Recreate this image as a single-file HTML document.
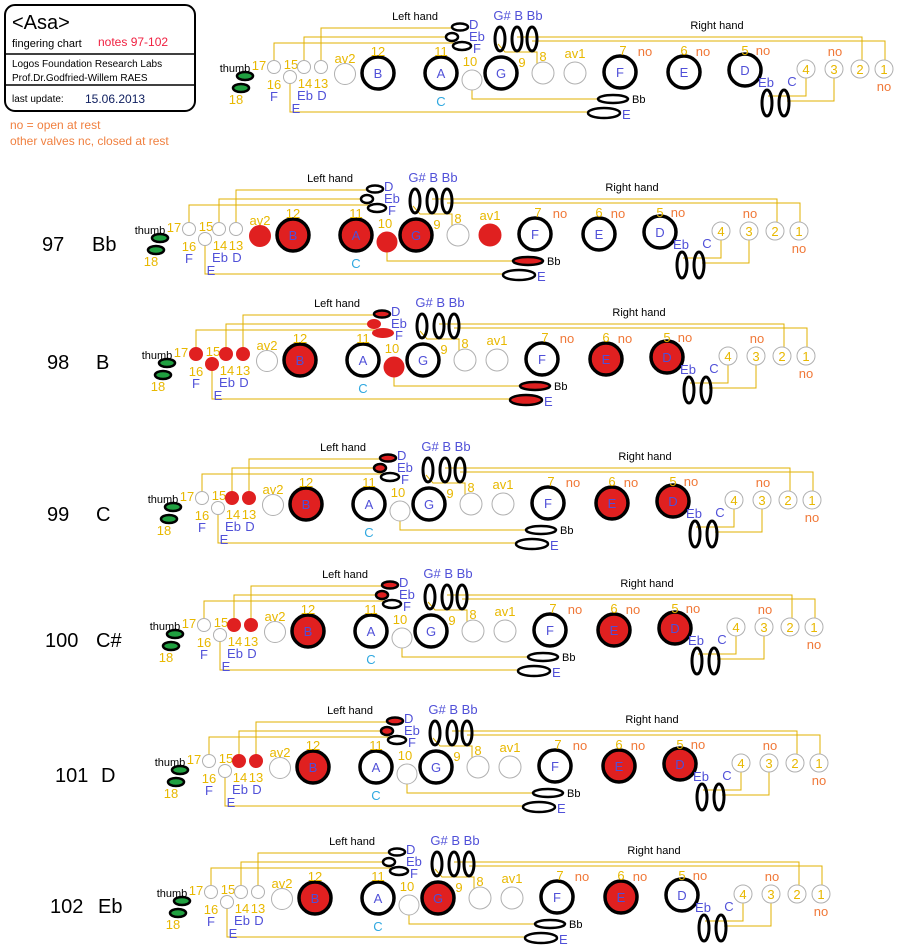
<!DOCTYPE html>
<html><head><meta charset="utf-8"><style>
body{margin:0;background:#fff}
svg{display:block;font-family:"Liberation Sans",sans-serif}
.ln{stroke:#e0b000;fill:none;stroke-width:1}
.y{fill:#e8b800;font-size:13px}
.b{fill:#5050d8;font-size:13px}
.c{fill:#30a8e0;font-size:13px}
.o{fill:#f07838;font-size:13px}
.s{fill:#fff;stroke:#b0b0b0;stroke-width:1}
.rs{fill:#e02020;stroke:#e02020;stroke-width:1}
.L{fill:#fff;stroke:#000;stroke-width:3.5}
.rL{fill:#e02020;stroke:#000;stroke-width:3.5}
.e{fill:#fff;stroke:#000;stroke-width:2.5}
.re{fill:#e02020;stroke:#000;stroke-width:2.5}
.rn{fill:#e02020;stroke:none}
.v{fill:none;stroke:#000;stroke-width:3}
.g{fill:#20a040;stroke:#000;stroke-width:2.5}
.k{fill:#000;font-size:11px}
.m{text-anchor:middle}
.row{font-size:20px;fill:#000}
</style></head><body>
<svg width="899" height="952" viewBox="0 0 899 952" xmlns="http://www.w3.org/2000/svg">
<rect x="5" y="5" width="190" height="106" rx="10" fill="#fff" stroke="#000" stroke-width="2"/>
<line x1="5" y1="54" x2="195" y2="54" stroke="#000" stroke-width="1.5"/>
<line x1="5" y1="85" x2="195" y2="85" stroke="#000" stroke-width="1.5"/>
<text x="12" y="29" font-size="20">&lt;Asa&gt;</text>
<text x="12" y="47" font-size="11">fingering chart</text>
<text x="98" y="46" font-size="12" fill="#f02040">notes 97-102</text>
<text x="12" y="67" font-size="10">Logos Foundation Research Labs</text>
<text x="12" y="81" font-size="10">Prof.Dr.Godfried-Willem RAES</text>
<text x="12" y="102" font-size="10">last update:</text>
<text x="85" y="103" font-size="12" fill="#102060">15.06.2013</text>
<text x="10" y="129" font-size="12" fill="#f08040">no = open at rest</text>
<text x="10" y="145" font-size="12" fill="#f08040">other valves nc, closed at rest</text>

<text class="row" x="42" y="251">97</text><text class="row" x="92" y="251">Bb</text>
<text class="row" x="47" y="369">98</text><text class="row" x="96" y="369">B</text>
<text class="row" x="47" y="521">99</text><text class="row" x="96" y="521">C</text>
<text class="row" x="45" y="647">100</text><text class="row" x="96" y="647">C#</text>
<text class="row" x="55" y="782">101</text><text class="row" x="101" y="782">D</text>
<text class="row" x="50" y="913">102</text><text class="row" x="98" y="913">Eb</text>

<!-- TOP (template) -->
<g transform="translate(0,0)">
<path class="ln" d="M274,62V43H455M304,61V37H448M321,61V28H455M290,77V112H592M472,80V99H600M498,44L505,52H537V72M517,37H862V61M532,41H885V61M806,78V96H768M834,78V101H787"/>
<text class="k m" x="235" y="72">thumb</text>
<ellipse class="g" cx="245" cy="76" rx="8" ry="4"/><ellipse class="g" cx="241" cy="88" rx="8" ry="4"/>
<text class="y m" x="236" y="104">18</text><text class="y m" x="259" y="70">17</text><text class="y m" x="291" y="69">15</text>
<text class="y m" x="274" y="89">16</text><text class="y m" x="305" y="88">14</text><text class="y m" x="321" y="88">13</text>
<text class="b m" x="274" y="101">F</text><text class="b m" x="305" y="100">Eb</text><text class="b m" x="322" y="100">D</text><text class="b m" x="296" y="113">E</text>
<circle class="s" cx="274" cy="67" r="6.5"/><circle class="s" cx="290" cy="77" r="6.5"/><circle class="s" cx="304" cy="67" r="6.5"/><circle class="s" cx="321" cy="67" r="6.5"/>
<circle class="s" cx="345" cy="74" r="10.5"/><text class="y m" x="345" y="63">av2</text>
<circle class="L" cx="378" cy="73" r="16"/><text class="b m" x="378" y="78">B</text><text class="y m" x="378" y="56">12</text>
<circle class="L" cx="441" cy="73" r="16"/><text class="b m" x="441" y="78">A</text><text class="y m" x="441" y="56">11</text><text class="c m" x="441" y="106">C</text>
<circle class="s" cx="472" cy="80" r="10"/><text class="y m" x="470" y="66">10</text>
<circle class="L" cx="501" cy="73" r="16"/><text class="b m" x="501" y="78">G</text><text class="y m" x="522" y="67">9</text>
<circle class="s" cx="543" cy="73" r="11"/><text class="y m" x="543" y="61">8</text>
<circle class="s" cx="575" cy="73" r="11"/><text class="y m" x="575" y="58">av1</text>
<circle class="L" cx="620" cy="72" r="16"/><text class="b m" x="620" y="77">F</text><text class="y m" x="623" y="55">7</text><text class="o m" x="645" y="56">no</text>
<circle class="L" cx="684" cy="72" r="16"/><text class="b m" x="684" y="77">E</text><text class="y m" x="684" y="55">6</text><text class="o m" x="703" y="56">no</text>
<circle class="L" cx="745" cy="70" r="16"/><text class="b m" x="745" y="75">D</text><text class="y m" x="745" y="55">5</text><text class="o m" x="763" y="55">no</text>
<ellipse class="v" cx="767" cy="103" rx="5" ry="13"/><ellipse class="v" cx="784" cy="103" rx="5" ry="13"/>
<text class="b m" x="766" y="87">Eb</text><text class="b m" x="792" y="86">C</text>
<circle class="s" cx="806" cy="69" r="9"/><text class="y m" x="806" y="74">4</text>
<circle class="s" cx="834" cy="69" r="9"/><text class="y m" x="834" y="74">3</text>
<circle class="s" cx="860" cy="69" r="9"/><text class="y m" x="860" y="74">2</text>
<circle class="s" cx="884" cy="69" r="9"/><text class="y m" x="884" y="74">1</text>
<text class="o m" x="835" y="56">no</text><text class="o m" x="884" y="91">no</text>
<ellipse class="e" cx="613" cy="99" rx="15" ry="4"/><text class="k" x="632" y="103" font-size="10">Bb</text>
<ellipse class="e" cx="604" cy="113" rx="16" ry="5"/><text class="b" x="622" y="119">E</text>
<ellipse class="e" cx="460" cy="27" rx="8" ry="3.5"/><ellipse class="e" cx="452" cy="37" rx="6" ry="4"/><ellipse class="e" cx="462" cy="46" rx="9" ry="4"/>
<text class="b" x="469" y="29">D</text><text class="b" x="469" y="41">Eb</text><text class="b" x="473" y="53">F</text>
<ellipse class="v" cx="500" cy="39" rx="5" ry="12"/><ellipse class="v" cx="517" cy="39" rx="5" ry="12"/><ellipse class="v" cx="532" cy="39" rx="5" ry="12"/>
<text class="b m" x="518" y="20">G# B Bb</text>
<text class="k m" x="415" y="20">Left hand</text><text class="k m" x="717" y="29">Right hand</text>
</g>

<!-- 97 -->
<g transform="translate(-85,162)">
<path class="ln" d="M274,62V43H455M304,61V37H448M321,61V28H455M290,77V112H592M472,80V99H600M498,44L505,52H537V72M517,37H862V61M532,41H885V61M806,78V96H768M834,78V101H787"/>
<text class="k m" x="235" y="72">thumb</text>
<ellipse class="g" cx="245" cy="76" rx="8" ry="4"/><ellipse class="g" cx="241" cy="88" rx="8" ry="4"/>
<text class="y m" x="236" y="104">18</text><text class="y m" x="259" y="70">17</text><text class="y m" x="291" y="69">15</text>
<text class="y m" x="274" y="89">16</text><text class="y m" x="305" y="88">14</text><text class="y m" x="321" y="88">13</text>
<text class="b m" x="274" y="101">F</text><text class="b m" x="305" y="100">Eb</text><text class="b m" x="322" y="100">D</text><text class="b m" x="296" y="113">E</text>
<circle class="s" cx="274" cy="67" r="6.5"/><circle class="s" cx="290" cy="77" r="6.5"/><circle class="s" cx="304" cy="67" r="6.5"/><circle class="s" cx="321" cy="67" r="6.5"/>
<circle class="rs" cx="345" cy="74" r="10.5"/><text class="y m" x="345" y="63">av2</text>
<circle class="rL" cx="378" cy="73" r="16"/><text class="b m" x="378" y="78">B</text><text class="y m" x="378" y="56">12</text>
<circle class="rL" cx="441" cy="73" r="16"/><text class="b m" x="441" y="78">A</text><text class="y m" x="441" y="56">11</text><text class="c m" x="441" y="106">C</text>
<circle class="rs" cx="472" cy="80" r="10"/><text class="y m" x="470" y="66">10</text>
<circle class="rL" cx="501" cy="73" r="16"/><text class="b m" x="501" y="78">G</text><text class="y m" x="522" y="67">9</text>
<circle class="s" cx="543" cy="73" r="11"/><text class="y m" x="543" y="61">8</text>
<circle class="rs" cx="575" cy="73" r="11"/><text class="y m" x="575" y="58">av1</text>
<circle class="L" cx="620" cy="72" r="16"/><text class="b m" x="620" y="77">F</text><text class="y m" x="623" y="55">7</text><text class="o m" x="645" y="56">no</text>
<circle class="L" cx="684" cy="72" r="16"/><text class="b m" x="684" y="77">E</text><text class="y m" x="684" y="55">6</text><text class="o m" x="703" y="56">no</text>
<circle class="L" cx="745" cy="70" r="16"/><text class="b m" x="745" y="75">D</text><text class="y m" x="745" y="55">5</text><text class="o m" x="763" y="55">no</text>
<ellipse class="v" cx="767" cy="103" rx="5" ry="13"/><ellipse class="v" cx="784" cy="103" rx="5" ry="13"/>
<text class="b m" x="766" y="87">Eb</text><text class="b m" x="792" y="86">C</text>
<circle class="s" cx="806" cy="69" r="9"/><text class="y m" x="806" y="74">4</text>
<circle class="s" cx="834" cy="69" r="9"/><text class="y m" x="834" y="74">3</text>
<circle class="s" cx="860" cy="69" r="9"/><text class="y m" x="860" y="74">2</text>
<circle class="s" cx="884" cy="69" r="9"/><text class="y m" x="884" y="74">1</text>
<text class="o m" x="835" y="56">no</text><text class="o m" x="884" y="91">no</text>
<ellipse class="re" cx="613" cy="99" rx="15" ry="4"/><text class="k" x="632" y="103" font-size="10">Bb</text>
<ellipse class="e" cx="604" cy="113" rx="16" ry="5"/><text class="b" x="622" y="119">E</text>
<ellipse class="e" cx="460" cy="27" rx="8" ry="3.5"/><ellipse class="e" cx="452" cy="37" rx="6" ry="4"/><ellipse class="e" cx="462" cy="46" rx="9" ry="4"/>
<text class="b" x="469" y="29">D</text><text class="b" x="469" y="41">Eb</text><text class="b" x="473" y="53">F</text>
<ellipse class="v" cx="500" cy="39" rx="5" ry="12"/><ellipse class="v" cx="517" cy="39" rx="5" ry="12"/><ellipse class="v" cx="532" cy="39" rx="5" ry="12"/>
<text class="b m" x="518" y="20">G# B Bb</text>
<text class="k m" x="415" y="20">Left hand</text><text class="k m" x="717" y="29">Right hand</text>
</g>

<!-- 98 -->
<g transform="translate(-78,287)">
<path class="ln" d="M274,62V43H455M304,61V37H448M321,61V28H455M290,77V112H592M472,80V99H600M498,44L505,52H537V72M517,37H862V61M532,41H885V61M806,78V96H768M834,78V101H787"/>
<text class="k m" x="235" y="72">thumb</text>
<ellipse class="g" cx="245" cy="76" rx="8" ry="4"/><ellipse class="g" cx="241" cy="88" rx="8" ry="4"/>
<text class="y m" x="236" y="104">18</text><text class="y m" x="259" y="70">17</text><text class="y m" x="291" y="69">15</text>
<text class="y m" x="274" y="89">16</text><text class="y m" x="305" y="88">14</text><text class="y m" x="321" y="88">13</text>
<text class="b m" x="274" y="101">F</text><text class="b m" x="305" y="100">Eb</text><text class="b m" x="322" y="100">D</text><text class="b m" x="296" y="113">E</text>
<circle class="rs" cx="274" cy="67" r="6.5"/><circle class="rs" cx="290" cy="77" r="6.5"/><circle class="rs" cx="304" cy="67" r="6.5"/><circle class="rs" cx="321" cy="67" r="6.5"/>
<circle class="s" cx="345" cy="74" r="10.5"/><text class="y m" x="345" y="63">av2</text>
<circle class="rL" cx="378" cy="73" r="16"/><text class="b m" x="378" y="78">B</text><text class="y m" x="378" y="56">12</text>
<circle class="L" cx="441" cy="73" r="16"/><text class="b m" x="441" y="78">A</text><text class="y m" x="441" y="56">11</text><text class="c m" x="441" y="106">C</text>
<circle class="rs" cx="472" cy="80" r="10"/><text class="y m" x="470" y="66">10</text>
<circle class="L" cx="501" cy="73" r="16"/><text class="b m" x="501" y="78">G</text><text class="y m" x="522" y="67">9</text>
<circle class="s" cx="543" cy="73" r="11"/><text class="y m" x="543" y="61">8</text>
<circle class="s" cx="575" cy="73" r="11"/><text class="y m" x="575" y="58">av1</text>
<circle class="L" cx="620" cy="72" r="16"/><text class="b m" x="620" y="77">F</text><text class="y m" x="623" y="55">7</text><text class="o m" x="645" y="56">no</text>
<circle class="rL" cx="684" cy="72" r="16"/><text class="b m" x="684" y="77">E</text><text class="y m" x="684" y="55">6</text><text class="o m" x="703" y="56">no</text>
<circle class="rL" cx="745" cy="70" r="16"/><text class="b m" x="745" y="75">D</text><text class="y m" x="745" y="55">5</text><text class="o m" x="763" y="55">no</text>
<ellipse class="v" cx="767" cy="103" rx="5" ry="13"/><ellipse class="v" cx="784" cy="103" rx="5" ry="13"/>
<text class="b m" x="766" y="87">Eb</text><text class="b m" x="792" y="86">C</text>
<circle class="s" cx="806" cy="69" r="9"/><text class="y m" x="806" y="74">4</text>
<circle class="s" cx="834" cy="69" r="9"/><text class="y m" x="834" y="74">3</text>
<circle class="s" cx="860" cy="69" r="9"/><text class="y m" x="860" y="74">2</text>
<circle class="s" cx="884" cy="69" r="9"/><text class="y m" x="884" y="74">1</text>
<text class="o m" x="835" y="56">no</text><text class="o m" x="884" y="91">no</text>
<ellipse class="re" cx="613" cy="99" rx="15" ry="4"/><text class="k" x="632" y="103" font-size="10">Bb</text>
<ellipse class="re" cx="604" cy="113" rx="16" ry="5"/><text class="b" x="622" y="119">E</text>
<ellipse class="re" cx="460" cy="27" rx="8" ry="3.5"/><ellipse class="rn" cx="452" cy="37" rx="7" ry="5"/><ellipse class="rn" cx="461" cy="46" rx="11" ry="5"/>
<text class="b" x="469" y="29">D</text><text class="b" x="469" y="41">Eb</text><text class="b" x="473" y="53">F</text>
<ellipse class="v" cx="500" cy="39" rx="5" ry="12"/><ellipse class="v" cx="517" cy="39" rx="5" ry="12"/><ellipse class="v" cx="532" cy="39" rx="5" ry="12"/>
<text class="b m" x="518" y="20">G# B Bb</text>
<text class="k m" x="415" y="20">Left hand</text><text class="k m" x="717" y="29">Right hand</text>
</g>

<!-- 99 -->
<g transform="translate(-72,431)">
<path class="ln" d="M274,62V43H455M304,61V37H448M321,61V28H455M290,77V112H592M472,80V99H600M498,44L505,52H537V72M517,37H862V61M532,41H885V61M806,78V96H768M834,78V101H787"/>
<text class="k m" x="235" y="72">thumb</text>
<ellipse class="g" cx="245" cy="76" rx="8" ry="4"/><ellipse class="g" cx="241" cy="88" rx="8" ry="4"/>
<text class="y m" x="236" y="104">18</text><text class="y m" x="259" y="70">17</text><text class="y m" x="291" y="69">15</text>
<text class="y m" x="274" y="89">16</text><text class="y m" x="305" y="88">14</text><text class="y m" x="321" y="88">13</text>
<text class="b m" x="274" y="101">F</text><text class="b m" x="305" y="100">Eb</text><text class="b m" x="322" y="100">D</text><text class="b m" x="296" y="113">E</text>
<circle class="s" cx="274" cy="67" r="6.5"/><circle class="s" cx="290" cy="77" r="6.5"/><circle class="rs" cx="304" cy="67" r="6.5"/><circle class="rs" cx="321" cy="67" r="6.5"/>
<circle class="s" cx="345" cy="74" r="10.5"/><text class="y m" x="345" y="63">av2</text>
<circle class="rL" cx="378" cy="73" r="16"/><text class="b m" x="378" y="78">B</text><text class="y m" x="378" y="56">12</text>
<circle class="L" cx="441" cy="73" r="16"/><text class="b m" x="441" y="78">A</text><text class="y m" x="441" y="56">11</text><text class="c m" x="441" y="106">C</text>
<circle class="s" cx="472" cy="80" r="10"/><text class="y m" x="470" y="66">10</text>
<circle class="L" cx="501" cy="73" r="16"/><text class="b m" x="501" y="78">G</text><text class="y m" x="522" y="67">9</text>
<circle class="s" cx="543" cy="73" r="11"/><text class="y m" x="543" y="61">8</text>
<circle class="s" cx="575" cy="73" r="11"/><text class="y m" x="575" y="58">av1</text>
<circle class="L" cx="620" cy="72" r="16"/><text class="b m" x="620" y="77">F</text><text class="y m" x="623" y="55">7</text><text class="o m" x="645" y="56">no</text>
<circle class="rL" cx="684" cy="72" r="16"/><text class="b m" x="684" y="77">E</text><text class="y m" x="684" y="55">6</text><text class="o m" x="703" y="56">no</text>
<circle class="rL" cx="745" cy="70" r="16"/><text class="b m" x="745" y="75">D</text><text class="y m" x="745" y="55">5</text><text class="o m" x="763" y="55">no</text>
<ellipse class="v" cx="767" cy="103" rx="5" ry="13"/><ellipse class="v" cx="784" cy="103" rx="5" ry="13"/>
<text class="b m" x="766" y="87">Eb</text><text class="b m" x="792" y="86">C</text>
<circle class="s" cx="806" cy="69" r="9"/><text class="y m" x="806" y="74">4</text>
<circle class="s" cx="834" cy="69" r="9"/><text class="y m" x="834" y="74">3</text>
<circle class="s" cx="860" cy="69" r="9"/><text class="y m" x="860" y="74">2</text>
<circle class="s" cx="884" cy="69" r="9"/><text class="y m" x="884" y="74">1</text>
<text class="o m" x="835" y="56">no</text><text class="o m" x="884" y="91">no</text>
<ellipse class="e" cx="613" cy="99" rx="15" ry="4"/><text class="k" x="632" y="103" font-size="10">Bb</text>
<ellipse class="e" cx="604" cy="113" rx="16" ry="5"/><text class="b" x="622" y="119">E</text>
<ellipse class="re" cx="460" cy="27" rx="8" ry="3.5"/><ellipse class="re" cx="452" cy="37" rx="6" ry="4"/><ellipse class="e" cx="462" cy="46" rx="9" ry="4"/>
<text class="b" x="469" y="29">D</text><text class="b" x="469" y="41">Eb</text><text class="b" x="473" y="53">F</text>
<ellipse class="v" cx="500" cy="39" rx="5" ry="12"/><ellipse class="v" cx="517" cy="39" rx="5" ry="12"/><ellipse class="v" cx="532" cy="39" rx="5" ry="12"/>
<text class="b m" x="518" y="20">G# B Bb</text>
<text class="k m" x="415" y="20">Left hand</text><text class="k m" x="717" y="29">Right hand</text>
</g>

<!-- 100 -->
<g transform="translate(-70,558)">
<path class="ln" d="M274,62V43H455M304,61V37H448M321,61V28H455M290,77V112H592M472,80V99H600M498,44L505,52H537V72M517,37H862V61M532,41H885V61M806,78V96H768M834,78V101H787"/>
<text class="k m" x="235" y="72">thumb</text>
<ellipse class="g" cx="245" cy="76" rx="8" ry="4"/><ellipse class="g" cx="241" cy="88" rx="8" ry="4"/>
<text class="y m" x="236" y="104">18</text><text class="y m" x="259" y="70">17</text><text class="y m" x="291" y="69">15</text>
<text class="y m" x="274" y="89">16</text><text class="y m" x="305" y="88">14</text><text class="y m" x="321" y="88">13</text>
<text class="b m" x="274" y="101">F</text><text class="b m" x="305" y="100">Eb</text><text class="b m" x="322" y="100">D</text><text class="b m" x="296" y="113">E</text>
<circle class="s" cx="274" cy="67" r="6.5"/><circle class="s" cx="290" cy="77" r="6.5"/><circle class="rs" cx="304" cy="67" r="6.5"/><circle class="rs" cx="321" cy="67" r="6.5"/>
<circle class="s" cx="345" cy="74" r="10.5"/><text class="y m" x="345" y="63">av2</text>
<circle class="rL" cx="378" cy="73" r="16"/><text class="b m" x="378" y="78">B</text><text class="y m" x="378" y="56">12</text>
<circle class="L" cx="441" cy="73" r="16"/><text class="b m" x="441" y="78">A</text><text class="y m" x="441" y="56">11</text><text class="c m" x="441" y="106">C</text>
<circle class="s" cx="472" cy="80" r="10"/><text class="y m" x="470" y="66">10</text>
<circle class="L" cx="501" cy="73" r="16"/><text class="b m" x="501" y="78">G</text><text class="y m" x="522" y="67">9</text>
<circle class="s" cx="543" cy="73" r="11"/><text class="y m" x="543" y="61">8</text>
<circle class="s" cx="575" cy="73" r="11"/><text class="y m" x="575" y="58">av1</text>
<circle class="L" cx="620" cy="72" r="16"/><text class="b m" x="620" y="77">F</text><text class="y m" x="623" y="55">7</text><text class="o m" x="645" y="56">no</text>
<circle class="rL" cx="684" cy="72" r="16"/><text class="b m" x="684" y="77">E</text><text class="y m" x="684" y="55">6</text><text class="o m" x="703" y="56">no</text>
<circle class="rL" cx="745" cy="70" r="16"/><text class="b m" x="745" y="75">D</text><text class="y m" x="745" y="55">5</text><text class="o m" x="763" y="55">no</text>
<ellipse class="v" cx="767" cy="103" rx="5" ry="13"/><ellipse class="v" cx="784" cy="103" rx="5" ry="13"/>
<text class="b m" x="766" y="87">Eb</text><text class="b m" x="792" y="86">C</text>
<circle class="s" cx="806" cy="69" r="9"/><text class="y m" x="806" y="74">4</text>
<circle class="s" cx="834" cy="69" r="9"/><text class="y m" x="834" y="74">3</text>
<circle class="s" cx="860" cy="69" r="9"/><text class="y m" x="860" y="74">2</text>
<circle class="s" cx="884" cy="69" r="9"/><text class="y m" x="884" y="74">1</text>
<text class="o m" x="835" y="56">no</text><text class="o m" x="884" y="91">no</text>
<ellipse class="e" cx="613" cy="99" rx="15" ry="4"/><text class="k" x="632" y="103" font-size="10">Bb</text>
<ellipse class="e" cx="604" cy="113" rx="16" ry="5"/><text class="b" x="622" y="119">E</text>
<ellipse class="re" cx="460" cy="27" rx="8" ry="3.5"/><ellipse class="re" cx="452" cy="37" rx="6" ry="4"/><ellipse class="e" cx="462" cy="46" rx="9" ry="4"/>
<text class="b" x="469" y="29">D</text><text class="b" x="469" y="41">Eb</text><text class="b" x="473" y="53">F</text>
<ellipse class="v" cx="500" cy="39" rx="5" ry="12"/><ellipse class="v" cx="517" cy="39" rx="5" ry="12"/><ellipse class="v" cx="532" cy="39" rx="5" ry="12"/>
<text class="b m" x="518" y="20">G# B Bb</text>
<text class="k m" x="415" y="20">Left hand</text><text class="k m" x="717" y="29">Right hand</text>
</g>

<!-- 101 -->
<g transform="translate(-65,694)">
<path class="ln" d="M274,62V43H455M304,61V37H448M321,61V28H455M290,77V112H592M472,80V99H600M498,44L505,52H537V72M517,37H862V61M532,41H885V61M806,78V96H768M834,78V101H787"/>
<text class="k m" x="235" y="72">thumb</text>
<ellipse class="g" cx="245" cy="76" rx="8" ry="4"/><ellipse class="g" cx="241" cy="88" rx="8" ry="4"/>
<text class="y m" x="236" y="104">18</text><text class="y m" x="259" y="70">17</text><text class="y m" x="291" y="69">15</text>
<text class="y m" x="274" y="89">16</text><text class="y m" x="305" y="88">14</text><text class="y m" x="321" y="88">13</text>
<text class="b m" x="274" y="101">F</text><text class="b m" x="305" y="100">Eb</text><text class="b m" x="322" y="100">D</text><text class="b m" x="296" y="113">E</text>
<circle class="s" cx="274" cy="67" r="6.5"/><circle class="s" cx="290" cy="77" r="6.5"/><circle class="rs" cx="304" cy="67" r="6.5"/><circle class="rs" cx="321" cy="67" r="6.5"/>
<circle class="s" cx="345" cy="74" r="10.5"/><text class="y m" x="345" y="63">av2</text>
<circle class="rL" cx="378" cy="73" r="16"/><text class="b m" x="378" y="78">B</text><text class="y m" x="378" y="56">12</text>
<circle class="L" cx="441" cy="73" r="16"/><text class="b m" x="441" y="78">A</text><text class="y m" x="441" y="56">11</text><text class="c m" x="441" y="106">C</text>
<circle class="s" cx="472" cy="80" r="10"/><text class="y m" x="470" y="66">10</text>
<circle class="L" cx="501" cy="73" r="16"/><text class="b m" x="501" y="78">G</text><text class="y m" x="522" y="67">9</text>
<circle class="s" cx="543" cy="73" r="11"/><text class="y m" x="543" y="61">8</text>
<circle class="s" cx="575" cy="73" r="11"/><text class="y m" x="575" y="58">av1</text>
<circle class="L" cx="620" cy="72" r="16"/><text class="b m" x="620" y="77">F</text><text class="y m" x="623" y="55">7</text><text class="o m" x="645" y="56">no</text>
<circle class="rL" cx="684" cy="72" r="16"/><text class="b m" x="684" y="77">E</text><text class="y m" x="684" y="55">6</text><text class="o m" x="703" y="56">no</text>
<circle class="rL" cx="745" cy="70" r="16"/><text class="b m" x="745" y="75">D</text><text class="y m" x="745" y="55">5</text><text class="o m" x="763" y="55">no</text>
<ellipse class="v" cx="767" cy="103" rx="5" ry="13"/><ellipse class="v" cx="784" cy="103" rx="5" ry="13"/>
<text class="b m" x="766" y="87">Eb</text><text class="b m" x="792" y="86">C</text>
<circle class="s" cx="806" cy="69" r="9"/><text class="y m" x="806" y="74">4</text>
<circle class="s" cx="834" cy="69" r="9"/><text class="y m" x="834" y="74">3</text>
<circle class="s" cx="860" cy="69" r="9"/><text class="y m" x="860" y="74">2</text>
<circle class="s" cx="884" cy="69" r="9"/><text class="y m" x="884" y="74">1</text>
<text class="o m" x="835" y="56">no</text><text class="o m" x="884" y="91">no</text>
<ellipse class="e" cx="613" cy="99" rx="15" ry="4"/><text class="k" x="632" y="103" font-size="10">Bb</text>
<ellipse class="e" cx="604" cy="113" rx="16" ry="5"/><text class="b" x="622" y="119">E</text>
<ellipse class="re" cx="460" cy="27" rx="8" ry="3.5"/><ellipse class="re" cx="452" cy="37" rx="6" ry="4"/><ellipse class="e" cx="462" cy="46" rx="9" ry="4"/>
<text class="b" x="469" y="29">D</text><text class="b" x="469" y="41">Eb</text><text class="b" x="473" y="53">F</text>
<ellipse class="v" cx="500" cy="39" rx="5" ry="12"/><ellipse class="v" cx="517" cy="39" rx="5" ry="12"/><ellipse class="v" cx="532" cy="39" rx="5" ry="12"/>
<text class="b m" x="518" y="20">G# B Bb</text>
<text class="k m" x="415" y="20">Left hand</text><text class="k m" x="717" y="29">Right hand</text>
</g>

<!-- 102 -->
<g transform="translate(-63,825)">
<path class="ln" d="M274,62V43H455M304,61V37H448M321,61V28H455M290,77V112H592M472,80V99H600M498,44L505,52H537V72M517,37H862V61M532,41H885V61M806,78V96H768M834,78V101H787"/>
<text class="k m" x="235" y="72">thumb</text>
<ellipse class="g" cx="245" cy="76" rx="8" ry="4"/><ellipse class="g" cx="241" cy="88" rx="8" ry="4"/>
<text class="y m" x="236" y="104">18</text><text class="y m" x="259" y="70">17</text><text class="y m" x="291" y="69">15</text>
<text class="y m" x="274" y="89">16</text><text class="y m" x="305" y="88">14</text><text class="y m" x="321" y="88">13</text>
<text class="b m" x="274" y="101">F</text><text class="b m" x="305" y="100">Eb</text><text class="b m" x="322" y="100">D</text><text class="b m" x="296" y="113">E</text>
<circle class="s" cx="274" cy="67" r="6.5"/><circle class="s" cx="290" cy="77" r="6.5"/><circle class="s" cx="304" cy="67" r="6.5"/><circle class="s" cx="321" cy="67" r="6.5"/>
<circle class="s" cx="345" cy="74" r="10.5"/><text class="y m" x="345" y="63">av2</text>
<circle class="rL" cx="378" cy="73" r="16"/><text class="b m" x="378" y="78">B</text><text class="y m" x="378" y="56">12</text>
<circle class="L" cx="441" cy="73" r="16"/><text class="b m" x="441" y="78">A</text><text class="y m" x="441" y="56">11</text><text class="c m" x="441" y="106">C</text>
<circle class="s" cx="472" cy="80" r="10"/><text class="y m" x="470" y="66">10</text>
<circle class="rL" cx="501" cy="73" r="16"/><text class="b m" x="501" y="78">G</text><text class="y m" x="522" y="67">9</text>
<circle class="s" cx="543" cy="73" r="11"/><text class="y m" x="543" y="61">8</text>
<circle class="s" cx="575" cy="73" r="11"/><text class="y m" x="575" y="58">av1</text>
<circle class="L" cx="620" cy="72" r="16"/><text class="b m" x="620" y="77">F</text><text class="y m" x="623" y="55">7</text><text class="o m" x="645" y="56">no</text>
<circle class="rL" cx="684" cy="72" r="16"/><text class="b m" x="684" y="77">E</text><text class="y m" x="684" y="55">6</text><text class="o m" x="703" y="56">no</text>
<circle class="L" cx="745" cy="70" r="16"/><text class="b m" x="745" y="75">D</text><text class="y m" x="745" y="55">5</text><text class="o m" x="763" y="55">no</text>
<ellipse class="v" cx="767" cy="103" rx="5" ry="13"/><ellipse class="v" cx="784" cy="103" rx="5" ry="13"/>
<text class="b m" x="766" y="87">Eb</text><text class="b m" x="792" y="86">C</text>
<circle class="s" cx="806" cy="69" r="9"/><text class="y m" x="806" y="74">4</text>
<circle class="s" cx="834" cy="69" r="9"/><text class="y m" x="834" y="74">3</text>
<circle class="s" cx="860" cy="69" r="9"/><text class="y m" x="860" y="74">2</text>
<circle class="s" cx="884" cy="69" r="9"/><text class="y m" x="884" y="74">1</text>
<text class="o m" x="835" y="56">no</text><text class="o m" x="884" y="91">no</text>
<ellipse class="e" cx="613" cy="99" rx="15" ry="4"/><text class="k" x="632" y="103" font-size="10">Bb</text>
<ellipse class="e" cx="604" cy="113" rx="16" ry="5"/><text class="b" x="622" y="119">E</text>
<ellipse class="e" cx="460" cy="27" rx="8" ry="3.5"/><ellipse class="e" cx="452" cy="37" rx="6" ry="4"/><ellipse class="e" cx="462" cy="46" rx="9" ry="4"/>
<text class="b" x="469" y="29">D</text><text class="b" x="469" y="41">Eb</text><text class="b" x="473" y="53">F</text>
<ellipse class="v" cx="500" cy="39" rx="5" ry="12"/><ellipse class="v" cx="517" cy="39" rx="5" ry="12"/><ellipse class="v" cx="532" cy="39" rx="5" ry="12"/>
<text class="b m" x="518" y="20">G# B Bb</text>
<text class="k m" x="415" y="20">Left hand</text><text class="k m" x="717" y="29">Right hand</text>
</g>
</svg>
</body></html>
